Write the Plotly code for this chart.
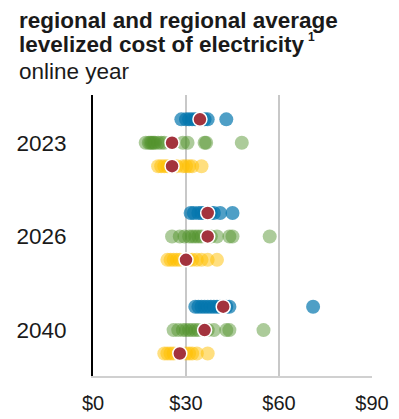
import plotly.graph_objects as go

# ---- data ----
years = ["2023", "2026", "2040"]
x_ticks = [0, 30, 60, 90]
x_tick_labels = ["$0", "$30", "$60", "$90"]

blue_vals = [
    [28.5, 30, 31, 32, 33, 34, 35, 36, 37, 43],
    [31.5, 32.5, 34, 35, 36, 37, 38, 39, 41, 45],
    [33, 34, 35, 36, 37, 38, 39, 40, 41, 43, 44, 71],
]
green_vals = [
    [17, 18, 18.5, 19, 19.5, 20, 21, 22, 23, 29, 30.5, 36, 36.5, 48],
    [25.5, 28, 29.5, 31, 32, 33, 34, 35, 38, 40, 44, 45, 57],
    [26, 27.5, 29, 30, 31, 32, 33, 34, 37, 39, 43, 44, 55],
]
yellow_vals = [
    [21, 22, 23, 24, 25, 27, 29, 30, 31, 32, 35],
    [24, 25, 26, 27, 28, 31, 32, 33.5, 35, 37, 40],
    [23, 24, 25, 26, 28, 30, 31, 32, 33.5, 37],
]
blue_avg = [34.5, 37, 42]
green_avg = [25.5, 37, 36]
yellow_avg = [25.5, 30, 28]

series = [
    ("blue", blue_vals, blue_avg, "#0476ae", 0.7, -0.25),
    ("green", green_vals, green_avg, "#52922c", 0.48, 0.0),
    ("yellow", yellow_vals, yellow_avg, "#ffc000", 0.5, 0.25),
]
avg_color = "#a3333d"

fig = go.Figure()
FONT = "Liberation Sans, Arial, sans-serif"

for name, vals, avg, color, op, off in series:
    xs, ys = [], []
    for i, row in enumerate(vals):
        xs += row
        ys += [i + off] * len(row)
    fig.add_trace(go.Scatter(
        x=xs, y=ys, mode="markers", name=name, showlegend=False,
        marker=dict(size=14, color=color, opacity=op, line=dict(width=0)),
    ))

for name, vals, avg, color, op, off in series:
    fig.add_trace(go.Scatter(
        x=avg, y=[i + off for i in range(len(avg))], mode="markers",
        name=name + " average", showlegend=False,
        marker=dict(size=14, color=avg_color, line=dict(width=1.5, color="white")),
    ))

fig.update_layout(
    width=399, height=419,
    margin=dict(l=93, r=27, t=95, b=43),
    paper_bgcolor="white", plot_bgcolor="white",
    font=dict(family=FONT, size=21, color="#1a1a1a"),
    xaxis=dict(
        range=[0, 90], tickvals=x_ticks, ticktext=x_tick_labels,
        showgrid=True, gridcolor="#c8c8c8", gridwidth=1.5,
        zeroline=False, showline=True, linecolor="#d0d0d0", linewidth=1.5,
        ticks="", ticklabelstandoff=8, automargin=False,
        tickfont=dict(size=20, color="#1a1a1a"),
    ),
    yaxis=dict(
        range=[2.49, -0.51], tickvals=[0, 1, 2], ticktext=years,
        showgrid=False, zeroline=False, showline=True,
        linecolor="black", linewidth=2, ticks="", ticklabelstandoff=20,
        automargin=False,
        tickfont=dict(size=22.5, color="#1a1a1a"),
    ),
    annotations=[
        dict(text="<b>regional and regional average</b>", xref="paper", yref="paper",
             x=-0.2724, y=1.2669, xanchor="left", yanchor="middle", showarrow=False,
             font=dict(size=22.5, color="#1a1a1a", family=FONT)),
        dict(text="<b>levelized cost of electricity</b>", xref="paper", yref="paper",
             x=-0.2724, y=1.178, xanchor="left", yanchor="middle", showarrow=False,
             font=dict(size=22.5, color="#1a1a1a", family=FONT)),
        dict(text="<b>1</b>", xref="paper", yref="paper",
             x=0.762, y=1.205, xanchor="left", yanchor="middle", showarrow=False,
             font=dict(size=12, color="#1a1a1a", family=FONT)),
        dict(text="online year", xref="paper", yref="paper",
             x=-0.2724, y=1.082, xanchor="left", yanchor="middle", showarrow=False,
             font=dict(size=22.5, color="#1a1a1a", family=FONT)),
    ],
)

fig.write_html(
    "out.html",
    config={"displayModeBar": False},
    post_script="document.body.style.margin='0';document.body.style.overflow='hidden';",
)
